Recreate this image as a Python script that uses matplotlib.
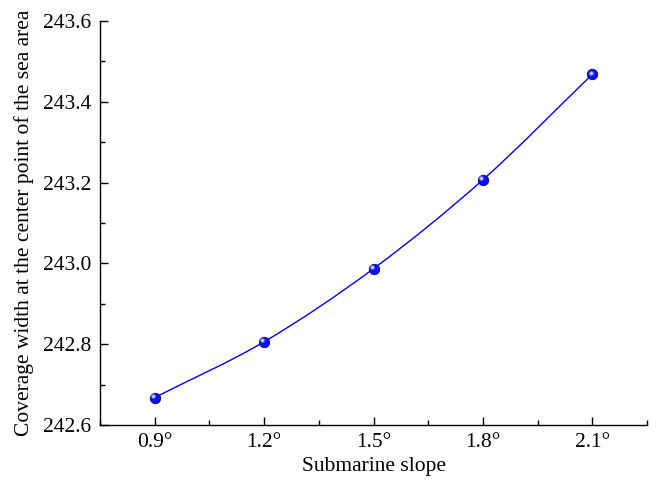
import numpy as np
import matplotlib
matplotlib.use("Agg")
import matplotlib.pyplot as plt
from matplotlib.path import Path
from matplotlib.patches import PathPatch
from matplotlib.ticker import MultipleLocator
import matplotlib.transforms as mtransforms

plt.rcParams["font.family"] = ["Liberation Serif", "DejaVu Serif"]

# ── Data ──────────────────────────────────────────────────────────────────────
slope_labels = ["0.9°", "1.2°", "1.5°", "1.8°", "2.1°"]
coverage_width = [242.668, 242.806, 242.987, 243.207, 243.468]

x = np.arange(len(slope_labels), dtype=float)
y = np.array(coverage_width)

fig = plt.figure(figsize=(6.56, 4.83), dpi=100)
ax = fig.add_axes([100 / 656, 58 / 483, 547 / 656, 404 / 483])

# ── Smooth curve through the points (Catmull-Rom -> cubic Bezier) ─────────────
px = np.concatenate([[2 * x[0] - x[1]], x, [2 * x[-1] - x[-2]]])
py = np.concatenate([[2 * y[0] - y[1]], y, [2 * y[-1] - y[-2]]])
verts = [(x[0], y[0])]
codes = [Path.MOVETO]
for i in range(1, len(px) - 2):
    c1 = (px[i] + (px[i + 1] - px[i - 1]) / 6, py[i] + (py[i + 1] - py[i - 1]) / 6)
    c2 = (px[i + 1] - (px[i + 2] - px[i]) / 6, py[i + 1] - (py[i + 2] - py[i]) / 6)
    verts += [c1, c2, (px[i + 1], py[i + 1])]
    codes += [Path.CURVE4] * 3
ax.add_patch(PathPatch(Path(verts, codes), fill=False, edgecolor="#0000ff", lw=1.0, zorder=2))

# ── Sphere-like markers ───────────────────────────────────────────────────────
ax.plot(x, y, ls="none", marker="o", ms=7.5, mfc="#1010f0", mec="#00008a", mew=0.6, zorder=3)
hl = ax.transData + mtransforms.ScaledTranslation(-1.2 / 72, 1.2 / 72, fig.dpi_scale_trans)
ax.plot(x, y, ls="none", marker="o", ms=3.2, mfc="#8f8fff", mec="none", transform=hl, zorder=4)
ax.plot(x, y, ls="none", marker="o", ms=1.4, mfc="white", mec="none", transform=hl, zorder=5)

# ── Axes ──────────────────────────────────────────────────────────────────────
ax.set_xlim(-0.5, 4.5)
ax.set_ylim(242.6, 243.6)
ax.set_xticks(x)
ax.set_xticklabels(slope_labels)
ax.xaxis.set_minor_locator(MultipleLocator(0.5))
ax.yaxis.set_major_locator(MultipleLocator(0.2))
ax.yaxis.set_minor_locator(MultipleLocator(0.1))

for side in ("top", "right"):
    ax.spines[side].set_visible(False)
for side in ("left", "bottom"):
    ax.spines[side].set_linewidth(1.0)

ax.tick_params(which="major", direction="in", length=6, width=1.0, labelsize=15.5)
ax.tick_params(which="minor", direction="in", length=3.5, width=1.0)
ax.tick_params(axis="y", which="major", pad=6.5)
ax.tick_params(axis="x", which="major", pad=5.5)

ax.set_xlabel("Submarine slope", fontsize=15.5, labelpad=4)
ax.set_ylabel("Coverage width at the center point of the sea area", fontsize=15.5, labelpad=6)

fig.savefig("out.png", dpi=100)
